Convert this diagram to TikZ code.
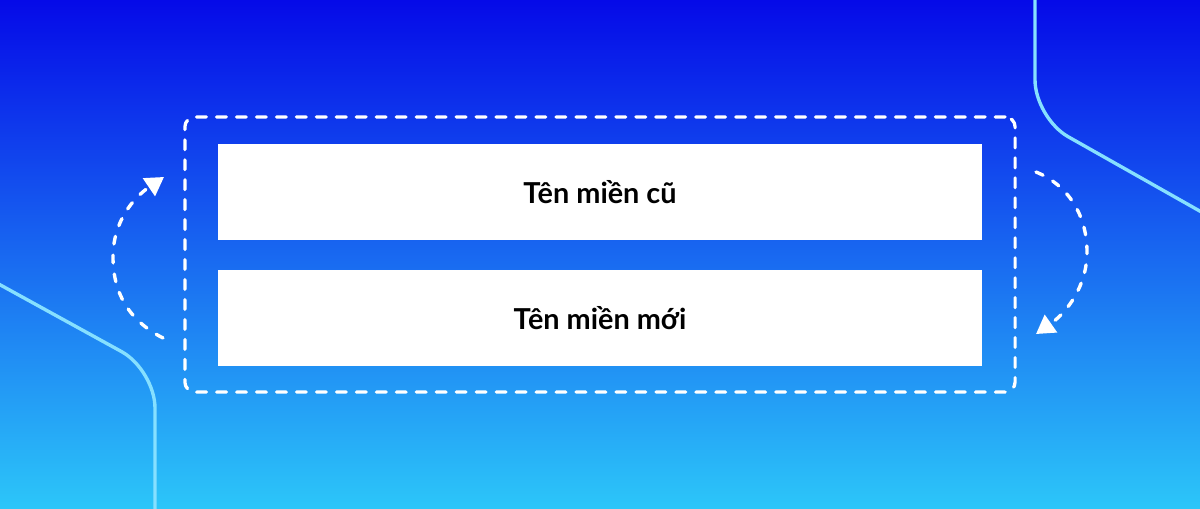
\documentclass[tikz,border=0pt]{standalone}
\usepackage{fontspec}
\setmainfont{Lato}
\usetikzlibrary{arrows.meta}
\definecolor{bgtop}{HTML}{050AE8}
\definecolor{bgmid}{HTML}{1A5CEE}
\definecolor{bgbot}{HTML}{2CC6F9}
\definecolor{deco}{HTML}{86E0FF}
\tikzset{
  whitebox/.style={fill=white, draw=none, minimum width=19.1cm, minimum height=2.4cm, inner sep=0pt, font=\fontsize{20.5}{24}\selectfont\bfseries, text=black},
  frame/.style={draw=white, line width=2.3pt, line cap=round, dash pattern=on 7pt off 7.2pt, rounded corners=0.25cm, minimum width=20.75cm, minimum height=6.875cm, inner sep=0pt},
  decoline/.style={draw=deco, line width=2.4pt},
  swaparrow/.style={draw=white, line width=2.4pt, dash pattern=on 5.5pt off 8pt, line cap=round, -{Triangle[width=15pt,length=13pt]}}
}
\begin{document}
\begin{tikzpicture}[x=0.025cm,y=-0.025cm]
\useasboundingbox (0,0) rectangle (1200,508);
\shade[top color=bgtop, middle color=bgmid, bottom color=bgbot] (0,0) rectangle (1200,508);
% decorative lines
\draw[decoline, rounded corners=0.95cm] (1035,-5) -- (1035,118) -- (1205,214);
\draw[decoline, rounded corners=0.95cm] (-5,282) -- (155,370) -- (155,515);
% frame and boxes
\node[frame] (frame) at (600,254.5) {};
\node[whitebox] (old) at (600,192) {Tên miền cũ};
\node[whitebox] (new) at (600,318) {Tên miền mới};
% arrows
\coordinate (lstart) at (163,338);
\coordinate (lend) at (164,177);
\coordinate (rstart) at (1036,172);
\coordinate (rend) at (1036,334);
\draw[swaparrow] (lstart) .. controls (128,320) and (113,292) .. (113,257) .. controls (113,222) and (133,198) .. (lend);
\draw[swaparrow] (rstart) .. controls (1068,185) and (1087,215) .. (1087,252) .. controls (1087,287) and (1066,313) .. (rend);
\end{tikzpicture}
\end{document}
